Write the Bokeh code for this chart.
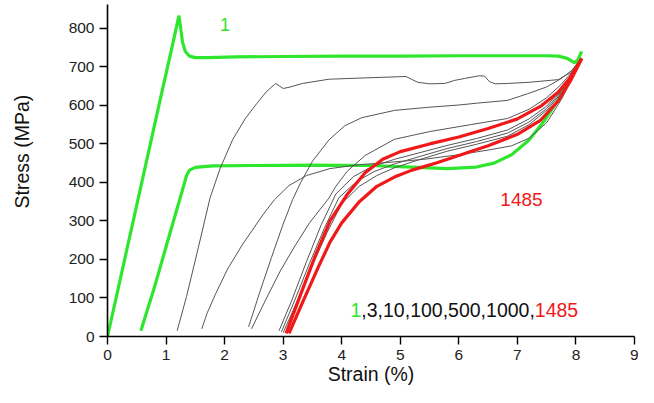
import math
from bokeh.plotting import figure
from bokeh.models import FixedTicker, Range1d
from bokeh.core.properties import value
from bokeh.embed import file_html
from bokeh.resources import INLINE

# ---------------- data (strain %, stress MPa) ----------------
# cycle 1 (green) - first loading
g1_strain = [0.0, 0.3, 0.6, 0.9, 1.1, 1.22, 1.25, 1.28, 1.33, 1.4, 1.5, 1.7, 2.2, 3.0, 4.0, 5.0, 6.0, 7.0, 7.5, 7.7, 7.85, 7.97, 8.03, 8.1]
g1_stress = [0, 205, 410, 615, 750, 833, 800, 765, 740, 728, 724, 724, 726, 727, 728, 728, 729, 729, 729, 728, 722, 711, 718, 740]
# cycle 1 (green) - reloading branch
g2_strain = [0.57, 0.8, 1.0, 1.2, 1.3, 1.35, 1.4, 1.5, 1.8, 2.5, 3.5, 4.5, 5.2, 5.8, 6.3, 6.6, 6.9, 7.2, 7.45, 7.7, 7.9, 8.08]
g2_stress = [15, 127, 233, 338, 391, 418, 432, 439, 443, 444, 445, 444, 440, 436, 440, 450, 472, 510, 558, 615, 670, 722]

# intermediate cycles (grey)
a_strain = [1.19, 1.35, 1.55, 1.75, 1.92, 2.14, 2.35, 2.55, 2.71, 2.87, 2.94, 3.0, 3.1, 3.33, 3.78, 4.5, 5.1, 5.19, 5.3, 5.5, 5.76, 5.93, 6.1, 6.35, 6.44, 6.52, 6.62, 6.83, 7.2, 7.7, 7.9, 8.08]
a_stress = [15, 104, 230, 359, 435, 512, 565, 605, 635, 657, 650, 644, 647, 657, 668, 672, 675, 668, 660, 656, 657, 665, 670, 677, 676, 662, 656, 657, 660, 667, 685, 720]

b_strain = [1.61, 1.7, 1.85, 2.05, 2.31, 2.5, 2.64, 2.85, 3.1, 3.4, 3.8, 4.3, 4.8, 5.4, 6.0, 6.5, 6.9, 7.2, 7.5, 7.75, 7.95, 8.08]
b_stress = [20, 60, 112, 175, 240, 282, 313, 355, 392, 418, 436, 446, 452, 460, 472, 484, 495, 515, 555, 615, 675, 720]

cs_strain = [2.41, 2.6, 2.8, 3.0, 3.16, 3.3, 3.5, 3.78, 4.05, 4.34, 4.9, 5.47, 6.0, 6.32, 6.83, 7.17, 7.5, 7.73, 7.95, 8.08]
cs_stress = [25, 115, 205, 292, 355, 400, 455, 510, 547, 568, 587, 595, 601, 606, 613, 630, 648, 668, 693, 720]

cg_strain = [2.46, 2.7, 2.95, 3.2, 3.45, 3.78, 3.9, 4.1, 4.4, 4.9, 5.5, 6.2, 6.83, 7.2, 7.5, 7.75, 7.95, 8.08]
cg_stress = [20, 95, 170, 235, 295, 359, 390, 430, 470, 512, 532, 550, 566, 590, 620, 655, 690, 720]

d1_strain = [2.93, 3.15, 3.4, 3.65, 3.9, 4.2, 4.5, 4.9, 5.3, 5.8, 6.3, 6.83, 7.2, 7.5, 7.75, 7.95, 8.08]
d1_stress = [15, 95, 195, 290, 370, 415, 440, 460, 476, 496, 514, 536, 565, 598, 642, 686, 720]
d2_strain = [2.97, 3.2, 3.45, 3.7, 3.95, 4.25, 4.55, 4.9, 5.3, 5.8, 6.3, 6.83, 7.2, 7.5, 7.78, 7.97, 8.08]
d2_stress = [12, 95, 190, 280, 360, 402, 428, 448, 466, 488, 506, 528, 557, 592, 642, 688, 720]
d3_strain = [3.0, 3.25, 3.5, 3.75, 4.0, 4.3, 4.6, 4.9, 5.3, 5.8, 6.3, 6.83, 7.2, 7.52, 7.8, 7.98, 8.08]
d3_stress = [10, 95, 185, 270, 345, 390, 418, 438, 458, 481, 499, 520, 550, 590, 642, 690, 720]

# cycle 1485 (red)
r1_strain = [3.05, 3.3, 3.55, 3.8, 4.1, 4.4, 4.7, 5.0, 5.5, 6.0, 6.5, 7.0, 7.4, 7.7, 7.9, 8.1]
r1_stress = [8, 110, 210, 300, 370, 425, 460, 480, 500, 518, 540, 565, 598, 635, 672, 722]
r2_strain = [3.1, 3.35, 3.6, 3.8, 4.0, 4.3, 4.6, 4.9, 5.2, 5.6, 6.0, 6.5, 7.0, 7.4, 7.7, 7.9, 8.1]
r2_stress = [8, 95, 180, 245, 295, 350, 390, 414, 432, 450, 470, 495, 525, 562, 612, 662, 722]

x_ticks = [0, 1, 2, 3, 4, 5, 6, 7, 8, 9]
y_ticks = [0, 100, 200, 300, 400, 500, 600, 700, 800]

label_first = "1"
label_last = "1485"
label_mid = ",3,10,100,500,1000,"
x_title = "Strain (%)"
y_title = "Stress (MPa)"

GREEN = "#2ee62e"
RED = "#f01818"
GREY = "#555555"
FONT = "Liberation Sans"

p = figure(width=638, height=387, x_range=Range1d(0, 9), y_range=Range1d(0, 862),
           output_backend="svg", toolbar_location=None,
           min_border_left=107, min_border_right=4, min_border_top=4, min_border_bottom=50)

p.xgrid.visible = False
p.ygrid.visible = False
p.outline_line_color = None
p.background_fill_color = "white"

# green
p.line(g1_strain, g1_stress, line_color=GREEN, line_width=3.2)
p.line(g2_strain, g2_stress, line_color=GREEN, line_width=3.2)
# grey
for xs, ys in [(a_strain, a_stress), (b_strain, b_stress), (cs_strain, cs_stress),
               (cg_strain, cg_stress), (d1_strain, d1_stress), (d2_strain, d2_stress),
               (d3_strain, d3_stress)]:
    p.line(xs, ys, line_color=GREY, line_width=1.0)
# red
p.line(r1_strain, r1_stress, line_color=RED, line_width=3.2)
p.line(r2_strain, r2_stress, line_color=RED, line_width=3.2)

# annotations
p.text(x=[1.92], y=[810], text=[label_first], text_color=GREEN, text_font=value(FONT),
       text_font_size="18px", text_align="left", text_baseline="middle")
p.text(x=[7.07], y=[357], text=[label_last], text_color=RED, text_font=value(FONT),
       text_font_size="19px", text_align="center", text_baseline="middle")
fs = 19.5
p.text(x=[4.15], y=[70], text=[label_first], text_color=GREEN, text_font=value(FONT),
       text_font_size=f"{fs}px", text_align="left", text_baseline="middle")
p.text(x=[4.15], y=[70], text=[label_mid], text_color="#111111", text_font=value(FONT),
       text_font_size=f"{fs}px", text_align="left", text_baseline="middle", x_offset=0.556 * fs)
p.text(x=[4.15], y=[70], text=[label_last], text_color=RED, text_font=value(FONT),
       text_font_size=f"{fs}px", text_align="left", text_baseline="middle", x_offset=(0.556 + 8.896) * fs)

# axes
p.xaxis.ticker = FixedTicker(ticks=x_ticks)
p.yaxis.ticker = FixedTicker(ticks=y_ticks)
p.xaxis.axis_label = x_title
# leading no-break spaces lift the rotated title a little, as in the original
p.yaxis.axis_label = "\u00a0" * 7 + y_title
for ax in (p.xaxis[0], p.yaxis[0]):
    ax.axis_line_color = "black"
    ax.axis_line_width = 1.6
    ax.major_tick_line_color = "black"
    ax.major_tick_line_width = 1.4
    ax.major_tick_out = 8
    ax.major_tick_in = 0
    ax.minor_tick_line_color = None
    ax.major_label_text_font = FONT
    ax.major_label_text_font_size = "15.5px"
    ax.major_label_text_color = "#222222"
    ax.axis_label_text_font = FONT
    ax.axis_label_text_font_size = "19.5px"
    ax.axis_label_text_font_style = "normal"
    ax.axis_label_text_color = "#111111"
p.xaxis.major_label_standoff = 5
p.xaxis.axis_label_standoff = 0
p.yaxis.major_label_standoff = 5
p.yaxis.axis_label_standoff = 33

open("out.html", "w").write(file_html(p, INLINE))
